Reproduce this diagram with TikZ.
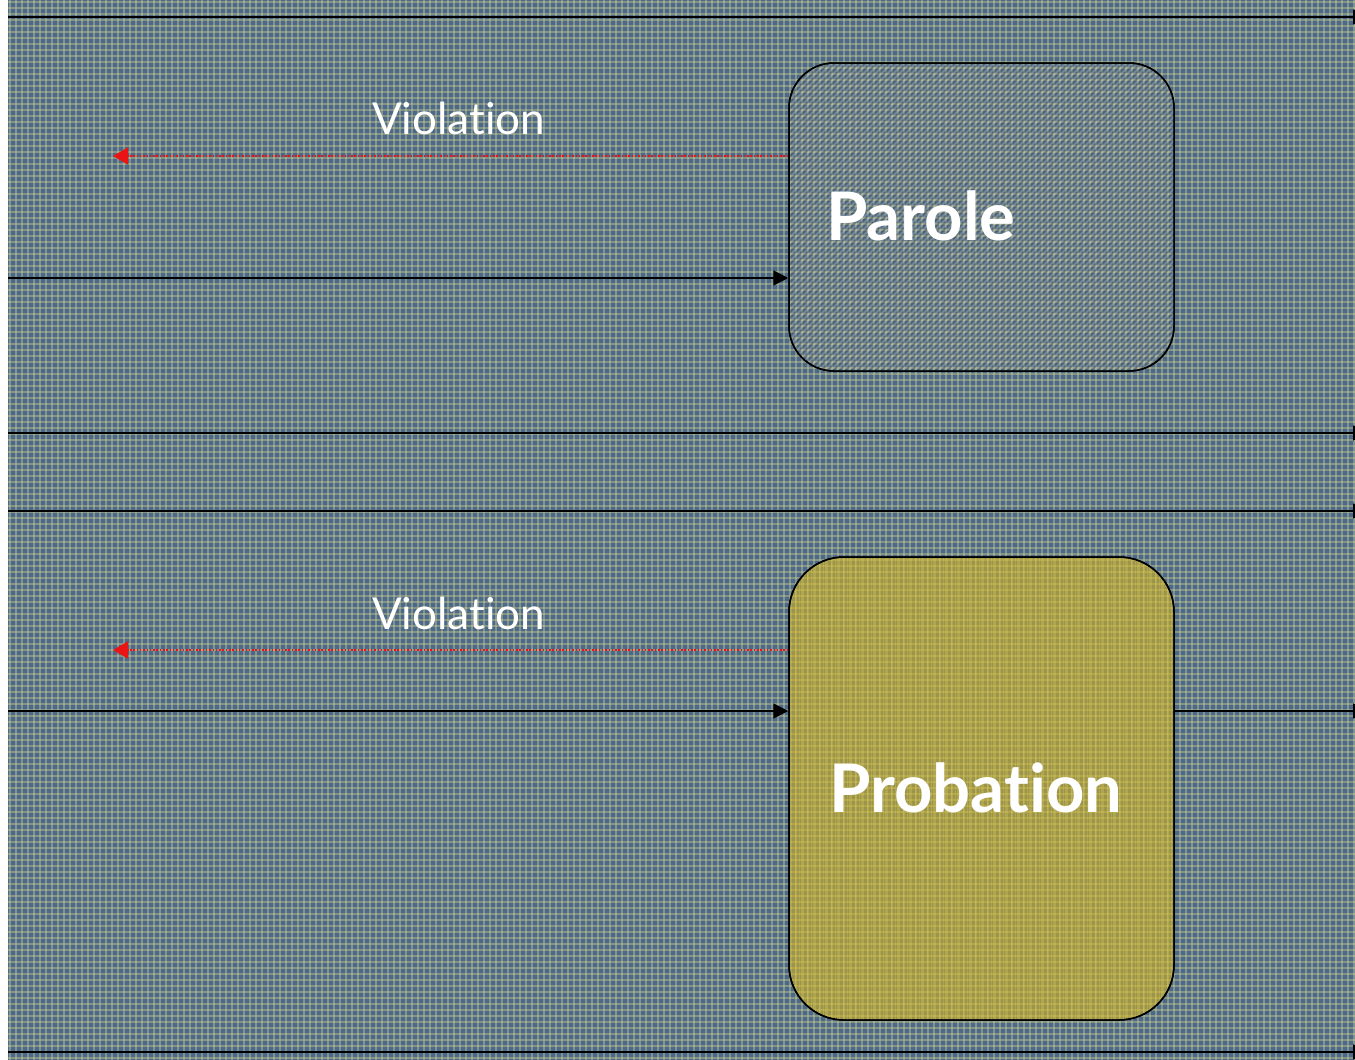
\documentclass[tikz,border=0pt]{standalone}
\usepackage{fontspec}
\setmainfont{Lato}[Ligatures={NoCommon,NoContextual}]
\usetikzlibrary{arrows.meta}
\definecolor{bgblue}{RGB}{76,104,138}
\definecolor{plaid}{RGB}{226,224,140}
\definecolor{paroleink}{RGB}{50,62,78}
\definecolor{parolelight}{RGB}{200,205,200}
\definecolor{probfill}{RGB}{214,180,30}
\definecolor{violred}{RGB}{235,20,20}
\tikzset{
  plaidline/.style={plaid, opacity=0.36, line width=1.1pt},
  flow/.style={line width=1.5pt, -{Triangle[length=15pt,width=15pt]}},
  rail/.style={line width=1.5pt, -{Triangle[length=15pt,width=15pt]}},
  viol/.style={violred, line width=1.3pt, dash pattern=on 1.5pt off 1.8pt,
    -{Triangle[length=15pt,width=17pt]}},
  stagebox/.style={draw, line width=1.5pt, rounded corners=#1, inner sep=0pt},
  stagetext/.style={white, font=\fontsize{67}{72}\selectfont\bfseries, anchor=base west, inner sep=0pt},
  violtext/.style={white, font=\fontsize{44}{50}\selectfont, anchor=base west, inner sep=0pt}
}
\begin{document}
\begin{tikzpicture}[x=1pt,y=-1pt]
\useasboundingbox (0,0) rectangle (1355,1060);
% page and plaid backdrop
\fill[white] (0,0) rectangle (1355,1060);
\fill[bgblue] (8,0) rectangle (1355,1060);
\foreach \x in {10,16,...,1355} \draw[plaidline] (\x,0) -- (\x,1060);
\foreach \y in {2,8,...,1060} \draw[plaidline] (8,\y) -- (1355,\y);

% stage boxes
\node[stagebox=45pt, minimum width=385pt, minimum height=308pt] (parole) at (981.5,217) {};
\begin{scope}
  \clip[rounded corners=45pt] (789,63) rectangle (1174,371);
  \fill[parolelight, opacity=0.12] (789,63) rectangle (1174,371);
  \foreach \d in {-400,-394,...,400} {
    \draw[paroleink, opacity=0.35, line width=1.6pt] (789+\d,371) -- (1097+\d,63);
    \draw[parolelight, opacity=0.25, line width=1.2pt] (792+\d,371) -- (1100+\d,63);
  }
\end{scope}
\node[stagebox=45pt, minimum width=385pt, minimum height=308pt] at (981.5,217) {};

\node[stagebox=55pt, fill=probfill, fill opacity=0.58, minimum width=385pt, minimum height=463pt] (probation) at (981.5,788.5) {};
\begin{scope}
  \clip[rounded corners=55pt] (789,557) rectangle (1174,1020);
  \foreach \x in {791,795,...,1174} \draw[plaid, opacity=0.22, line width=0.8pt] (\x,557) -- (\x,1020);
\end{scope}
\node[stagebox=55pt, minimum width=385pt, minimum height=463pt] at (981.5,788.5) {};

\node[stagetext] (paroleLabel) at (826,240) {Parole};
\node[stagetext] (probationLabel) at (829,812) {Probation};

% horizontal rails across the page
\coordinate (r1a) at (8,17);     \coordinate (r1b) at (1368,17);
\coordinate (r2a) at (8,433);    \coordinate (r2b) at (1368,433);
\coordinate (r3a) at (8,511);    \coordinate (r3b) at (1368,511);
\coordinate (r4a) at (8,1052);   \coordinate (r4b) at (1368,1052);
\draw[rail] (r1a) -- (r1b);
\draw[rail] (r2a) -- (r2b);
\draw[rail] (r3a) -- (r3b);
\draw[rail] (r4a) -- (r4b);

% entries into each stage
\coordinate (inP) at (8,278);
\coordinate (inB) at (8,711);
\coordinate (outB) at (1368,711);
\draw[flow] (inP) -- (inP -| parole.west);
\draw[flow] (inB) -- (inB -| probation.west);
\draw[flow] (probation.east |- inB) -- (outB);

% violation returns
\coordinate (vP) at (113,156);
\coordinate (vB) at (113,650);
\draw[viol] (parole.west |- vP) -- (vP);
\draw[viol] (probation.west |- vB) -- (vB);
\node[violtext] (violP) at (372,134) {Violation};
\node[violtext] (violB) at (372,629) {Violation};
\end{tikzpicture}
\end{document}
